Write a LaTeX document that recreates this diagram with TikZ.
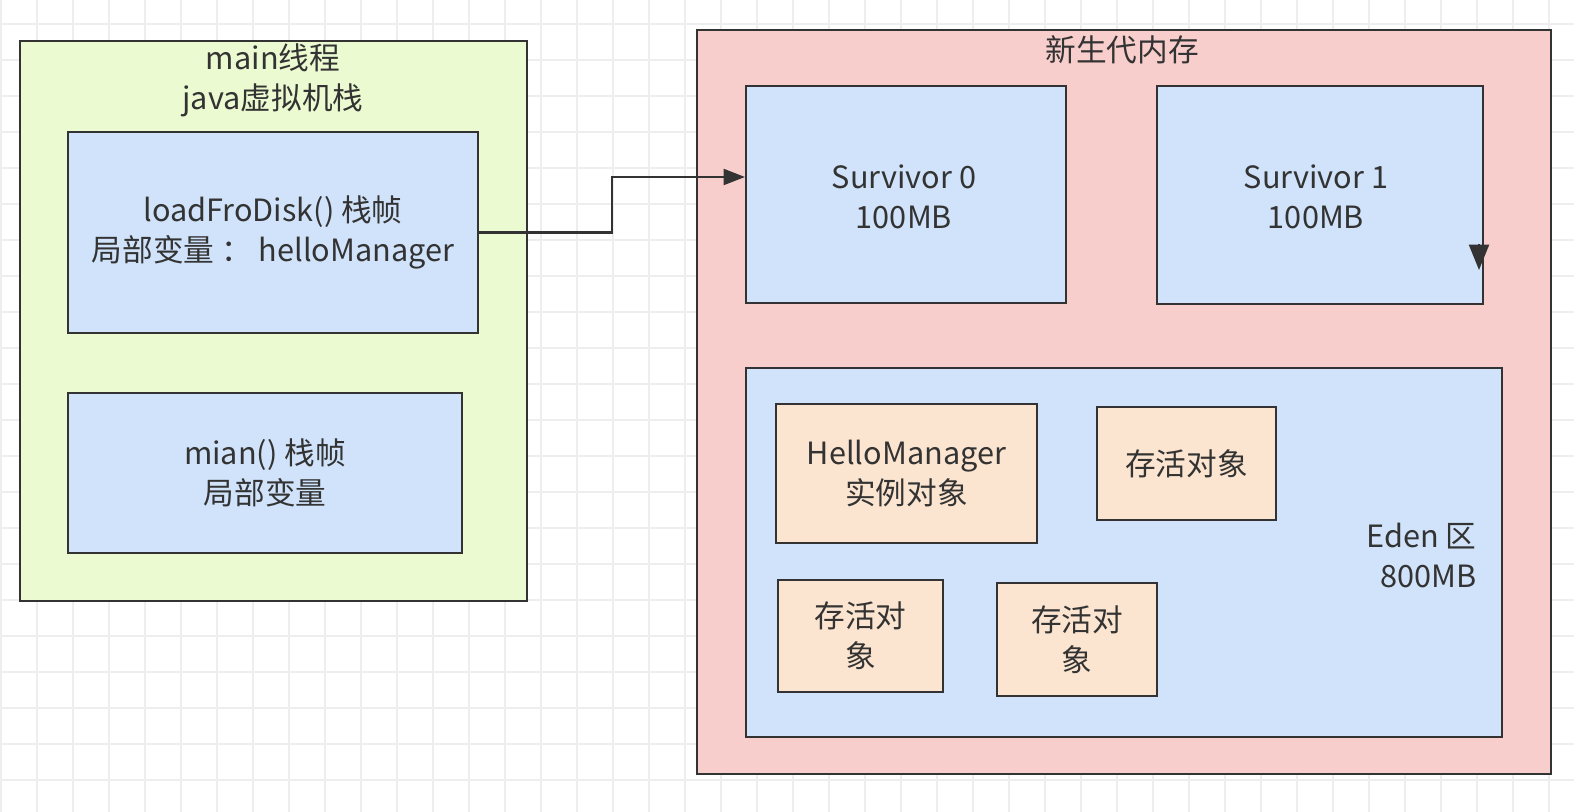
\documentclass[tikz,border=0pt]{standalone}
\usepackage{fontspec}
\setmainfont{Noto Sans CJK SC}
\usepackage{tikz}
\usetikzlibrary{arrows.meta}
\definecolor{gridgray}{RGB}{238,238,238}
\definecolor{inkgray}{RGB}{51,51,51}
\definecolor{threadgreen}{RGB}{235,250,209}
\definecolor{framblue}{RGB}{208,227,250}
\definecolor{younpink}{RGB}{248,206,204}
\definecolor{objorange}{RGB}{252,229,208}

\begin{document}
\begin{tikzpicture}[x=0.75pt,y=-0.75pt]
\tikzset{
  gridline/.style={gridgray,line width=1.2pt},
  areabox/.style={draw=inkgray,line width=1.6pt,rectangle,inner sep=0pt},
  label/.style={text=inkgray,align=center,font=\fontsize{23}{30}\selectfont},
  ptr/.style={draw=inkgray,line width=1.6pt,-{Triangle[length=16pt,width=12pt]}}
}
\useasboundingbox[fill=white] (0,0) rectangle (1574,812);
\foreach \gx in {1,37,...,1573} \draw[gridline] (\gx,0) -- (\gx,812);
\foreach \gy in {24,60,...,812} \draw[gridline] (0,\gy) -- (1574,\gy);

% main thread stack
\node[areabox,fill=threadgreen,minimum width=380.25pt,minimum height=420pt] (thread) at (273.5,321) {};
\node[label] (threadtitle) at (273,80) {main线程\\java虚拟机栈};
\node[areabox,fill=framblue,minimum width=307.5pt,minimum height=150.75pt] (loadframe) at (273,232.5) {};
\node[label] (loadtext) at (273,232.5) {loadFroDisk() 栈帧\\局部变量 ： helloManager};
\node[areabox,fill=framblue,minimum width=295.5pt,minimum height=120pt] (mainframe) at (265,473) {};
\node[label] (maintext) at (265,473) {mian() 栈帧\\局部变量};

% young generation
\node[areabox,fill=younpink,minimum width=640.5pt,minimum height=558pt] (young) at (1124,402) {};
\node[label] (youngtitle) at (1122,50) {新生代内存};
\node[areabox,fill=framblue,minimum width=240pt,minimum height=162.75pt] (surv0) at (906,194.5) {};
\node[label] (surv0text) at (904,197) {Survivor 0\\100MB};
\node[areabox,fill=framblue,minimum width=244.5pt,minimum height=163.5pt] (surv1) at (1320,195) {};
\node[label] (surv1text) at (1316,197) {Survivor 1\\100MB};
\node[areabox,fill=framblue,minimum width=567pt,minimum height=276.75pt] (eden) at (1124,552.5) {};
\node[label,align=right,anchor=east] (edentext) at (1481,555) {Eden 区\\800MB};

% objects in eden
\node[areabox,fill=objorange,minimum width=195.75pt,minimum height=104.25pt] (hello) at (906.5,473.5) {};
\node[label] (hellotext) at (906.5,473.5) {HelloManager\\实例对象};
\node[areabox,fill=objorange,minimum width=134.25pt,minimum height=84.75pt] (alivea) at (1186.5,463.5) {};
\node[label] (aliveatext) at (1186.5,463.5) {存活对象};
\node[areabox,fill=objorange,minimum width=123.75pt,minimum height=84pt] (aliveb) at (860.5,636) {};
\node[label] (alivebtext) at (860.5,636) {存活对\\象};
\node[areabox,fill=objorange,minimum width=120pt,minimum height=84.75pt] (alivec) at (1077,639.5) {};
\node[label] (alivectext) at (1077,639.5) {存活对\\象};

% connectors
\coordinate (bend) at (612,177);
\draw[ptr] (loadframe.east) -| (bend) -- (surv0.west |- bend);
\coordinate (stubtop) at (1479,244);
\coordinate (stubtip) at (1479,270);
\draw[ptr,-{Triangle[length=19pt,width=15pt]}] (stubtop) -- (stubtip);
\end{tikzpicture}
\end{document}
